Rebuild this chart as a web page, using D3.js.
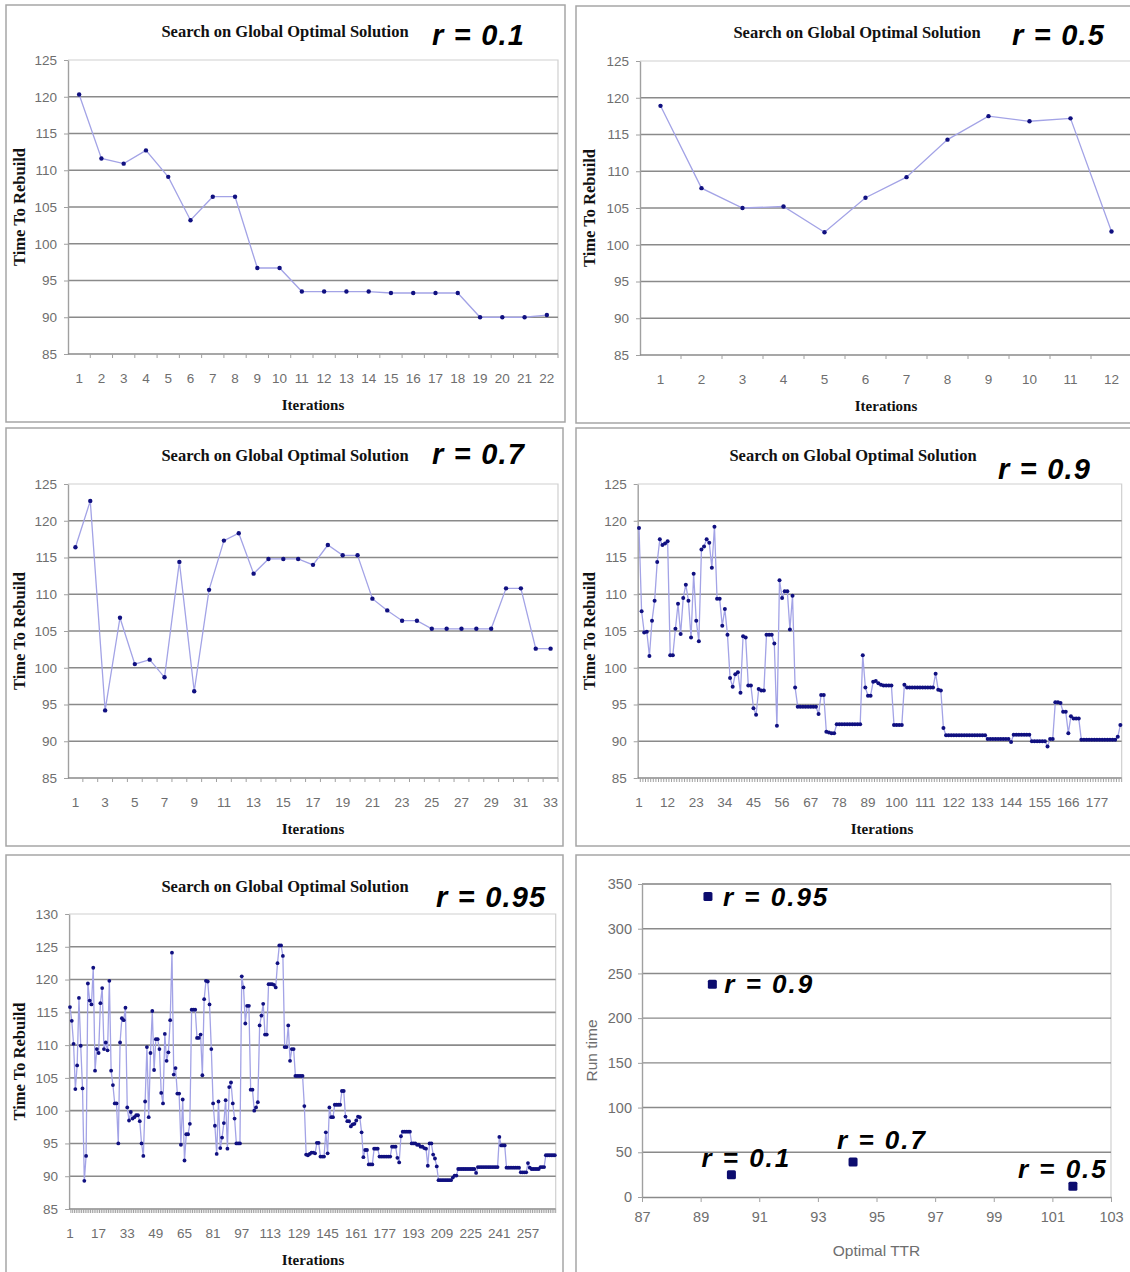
<!DOCTYPE html>
<html>
<head>
<meta charset="utf-8">
<script src="https://cdn.jsdelivr.net/npm/d3@7"></script>
<style>
  body { margin: 0; background: #fff; }
  .tick-label { font-family: "Liberation Sans", Arial, sans-serif; fill: #6e6e6e; }
  .serif-bold { font-family: "Liberation Serif", "Times New Roman", serif; font-weight: bold; fill: #111; }
  .r-label { font-family: "Liberation Sans", Arial, sans-serif; font-weight: bold; font-style: italic; fill: #000; }
</style>
</head>
<body>
<svg id="chart" width="1130" height="1272"></svg>
<script>
// ---- data ----
// time to rebuild per iteration, one array per r value
const ttrR01 = [120.3, 111.6, 110.9, 112.7, 109.1, 103.2, 106.4, 106.4, 96.7, 96.7, 93.5,
  93.5, 93.5, 93.5, 93.3, 93.3, 93.3, 93.3, 90.0, 90.0, 90.0, 90.3];

const ttrR05 = [118.9, 107.7, 105.0, 105.2, 101.7, 106.4, 109.2, 114.3, 117.5, 116.8, 117.2, 101.8];

const ttrR07 = [116.4, 122.7, 94.2, 106.8, 100.5, 101.1, 98.7, 114.4, 96.8, 110.6, 117.3,
  118.3, 112.8, 114.8, 114.8, 114.8, 114.0, 116.7, 115.3, 115.3, 109.4, 107.8,
  106.4, 106.4, 105.3, 105.3, 105.3, 105.3, 105.3, 110.8, 110.8, 102.6, 102.6];

const ttrR09 = [
  119.0, 107.7, 104.8, 104.9, 101.6, 106.4, 109.1, 114.4, 117.5, 116.7,
  116.9, 117.2, 101.7, 101.7, 105.3, 108.7, 104.6, 109.5, 111.3, 109.1,
  104.1, 112.8, 106.4, 103.6, 116.1, 116.5, 117.5, 117.0, 113.6, 119.2,
  109.4, 109.4, 105.7, 108.0, 104.5, 98.6, 97.4, 99.1, 99.4, 96.6,
  104.3, 104.1, 97.6, 97.6, 94.5, 93.6,
  97.1, 96.9, 96.9, 104.5, 104.5, 104.5, 103.3, 92.1, 111.9, 109.5,
  110.4, 110.4, 105.2, 109.8, 97.3, 94.7, 94.7, 94.7, 94.7, 94.7,
  94.7, 94.7, 94.7, 93.7, 96.3, 96.3, 91.3, 91.2, 91.1, 91.1,
  92.3, 92.3, 92.3, 92.3, 92.3, 92.3, 92.3, 92.3, 92.3, 92.3,
  101.7, 97.3, 96.2, 96.2, 98.1,
  98.2, 97.9, 97.7, 97.6, 97.6, 97.6, 97.6, 92.2, 92.2, 92.2,
  92.2, 97.7, 97.3, 97.3, 97.3, 97.3, 97.3, 97.3, 97.3, 97.3,
  97.3, 97.3, 97.3, 99.2, 97.0, 96.9, 91.8, 90.8, 90.8, 90.8,
  90.8, 90.8, 90.8, 90.8, 90.8, 90.8, 90.8, 90.8, 90.8, 90.8,
  90.8, 90.8, 90.8, 90.3, 90.3, 90.3, 90.3, 90.3, 90.3,
  90.3, 90.3, 90.3, 89.9, 90.9, 90.9, 90.9, 90.9, 90.9, 90.9,
  90.9, 90.0, 90.0, 90.0, 90.0, 90.0, 90.0, 89.3, 90.3, 90.3,
  95.3, 95.3, 95.2, 94.0, 94.0, 91.1, 93.4, 93.1, 93.1, 93.1,
  90.2, 90.2, 90.2, 90.2, 90.2, 90.2, 90.2, 90.2, 90.2, 90.2,
  90.2, 90.2, 90.2, 90.2, 90.6, 92.2];

const ttrR095 = [
  115.8, 113.7, 110.2, 103.3, 106.9, 117.2, 109.9, 103.4, 89.3, 93.1,
  119.4, 116.8, 116.2, 121.8, 106.1, 109.4, 108.8, 116.4, 118.7, 109.4,
  110.4, 109.2, 119.8, 106.1, 103.9, 101.1, 101.1, 95.0, 110.4, 114.1,
  113.8, 115.7, 100.5, 98.5, 99.8, 98.8, 99.0, 99.3, 99.3, 98.4,
  95.0, 93.1, 101.4, 109.7, 99.0, 108.8, 115.2, 106.2, 110.9, 110.9,
  109.4, 102.7, 101.1, 111.7, 107.6, 108.9, 113.8, 124.1, 105.5, 106.5,
  102.6, 102.6, 94.8, 101.7, 92.4, 96.4, 96.4, 98.0, 115.4, 115.4, 115.4,
  111.1, 111.1, 111.6, 105.4, 117.0, 119.8, 119.7, 116.2, 109.4, 101.1,
  97.7, 93.4, 101.4, 94.3, 95.9, 98.1, 101.6, 94.2, 103.6, 104.3,
  101.1, 98.8, 95.0, 95.0, 95.0, 120.5, 118.8, 113.3, 116.0, 116.0,
  103.2, 103.2, 100.0, 100.5,
  101.3, 113.0, 114.5, 116.3, 111.6, 111.6, 119.3, 119.3, 119.3, 119.2,
  118.8, 122.5, 125.2, 125.2, 123.6, 109.7, 109.7, 113.0, 107.6, 109.4,
  109.4, 105.3, 105.3, 105.3, 105.3, 105.3, 100.7, 93.3, 93.2, 93.4,
  93.6, 93.6, 93.5, 95.1, 95.1, 93.0, 93.0, 93.0, 96.7, 93.5,
  100.5, 99.0, 99.0, 100.9, 100.9, 100.9, 100.9, 103.0, 103.0, 99.1,
  98.4, 98.4, 97.6, 97.9,
  98.0, 98.5, 99.1, 99.0, 96.7, 92.9, 94.0, 94.0, 91.8, 91.8,
  91.8, 94.2, 94.2, 94.2, 93.0, 93.0, 93.0, 93.0, 93.0, 93.0,
  93.0, 94.5, 94.5, 94.5, 92.8, 92.1, 96.1, 96.8, 96.8, 96.8,
  96.8, 96.8, 95.0, 95.0, 95.0, 94.8, 94.8, 94.5, 94.5, 94.3,
  94.2, 91.6, 95.0, 95.0, 93.3, 92.7, 91.5, 89.4, 89.4, 89.4,
  89.4, 89.4, 89.4, 89.4, 89.4, 89.8, 90.1, 90.1, 91.1,
  91.1, 91.1, 91.1, 91.1, 91.1, 91.1, 91.1, 91.1, 91.1, 90.5,
  91.4, 91.4, 91.4, 91.4, 91.4, 91.4, 91.4, 91.4, 91.4, 91.4,
  91.4, 91.4, 96.0, 94.7, 94.7, 94.7, 91.3, 91.3, 91.3,
  91.3, 91.3, 91.3, 91.3, 91.3, 90.6, 90.6, 90.6, 90.6, 92.0,
  91.3, 91.1, 91.1, 91.1, 91.1, 91.1, 91.4, 91.4, 91.4, 93.2,
  93.2, 93.2, 93.2, 93.2, 93.2];

// summary: optimal TTR vs run time for each r
const rNames = ["r = 0.95", "r = 0.9", "r = 0.1", "r = 0.7", "r = 0.5"];
const optimalTTR = [89.25, 89.4, 90.05, 94.2, 101.7];
const runTime = [336, 238, 25, 39, 12];

const svg = d3.select("#chart");

//Draws one "Search on Global Optimal Solution" line panel
function drawLinePanel(p) {
    const g = svg.append("g");

    //panel border
    g.append("rect")
        .attr("x", p.box[0]).attr("y", p.box[1])
        .attr("width", p.box[2]).attr("height", p.box[3])
        .attr("fill", "none").attr("stroke", "#a6a6a6").attr("stroke-width", 1.5);

    const n = p.data.length;
    const xScale = d3.scaleBand().domain(d3.range(1, n + 1)).range([p.x0, p.x0 + p.bandW * n]).padding(0);
    const yScale = d3.scaleLinear().domain([p.yMin, p.yMax]).range([p.y1, p.y0]);
    const xEnd = p.x0 + p.bandW * n;

    //plot frame (top/right light)
    g.append("path")
        .attr("d", `M${p.x0},${p.y0}H${xEnd}V${p.y1}`)
        .attr("fill", "none").attr("stroke", "#d0d0d0").attr("stroke-width", 1.2);

    //horizontal gridlines
    const yTicks = d3.range(p.yMin, p.yMax + 0.01, 5);
    g.selectAll("line.grid")
        .data(yTicks.filter(d => d > p.yMin && d < p.yMax))
        .join("line")
        .attr("x1", p.x0).attr("x2", xEnd)
        .attr("y1", d => yScale(d)).attr("y2", d => yScale(d))
        .attr("stroke", "#8a8a8a").attr("stroke-width", 1.6);

    //y axis
    const yAxis = g.append("g")
        .attr("transform", `translate(${p.x0},0)`)
        .call(d3.axisLeft(yScale).tickValues(yTicks).tickSize(4).tickSizeOuter(0).tickPadding(7));
    yAxis.select(".domain").attr("stroke", "#a0a0a0").attr("stroke-width", 1.4);
    yAxis.selectAll(".tick line").attr("stroke", "#a0a0a0");
    yAxis.selectAll("text").attr("class", "tick-label").style("font-size", "13.5px").attr("fill", null);

    //x axis: a tick on every category boundary, label every p.every
    g.append("line")
        .attr("x1", p.x0).attr("x2", xEnd).attr("y1", p.y1).attr("y2", p.y1)
        .attr("stroke", "#8a8a8a").attr("stroke-width", 1.6);
    g.selectAll("line.xtick")
        .data(d3.range(1, n + 1))
        .join("line")
        .attr("x1", d => xScale(d) + xScale.bandwidth()).attr("x2", d => xScale(d) + xScale.bandwidth())
        .attr("y1", p.y1).attr("y2", p.y1 + 4)
        .attr("stroke", "#a0a0a0").attr("stroke-width", 1);
    g.selectAll("text.xlab")
        .data(d3.range(1, n + 1).filter(d => (d - 1) % p.every === 0))
        .join("text")
        .attr("class", "tick-label")
        .style("font-size", "13.5px")
        .attr("x", d => xScale(d) + xScale.bandwidth() / 2)
        .attr("y", p.y1 + 29)
        .attr("text-anchor", "middle")
        .text(d => d);

    //series line and markers
    const line = d3.line()
        .x((d, i) => xScale(i + 1) + xScale.bandwidth() / 2)
        .y(d => yScale(d));
    g.append("path")
        .datum(p.data)
        .attr("fill", "none")
        .attr("stroke", "#a3a3e6")
        .attr("stroke-width", 1.3)
        .attr("d", line);
    g.selectAll("circle.pt")
        .data(p.data)
        .join("circle")
        .attr("cx", (d, i) => xScale(i + 1) + xScale.bandwidth() / 2)
        .attr("cy", d => yScale(d))
        .attr("r", p.dotR)
        .attr("fill", "#101080");

    //titles
    g.append("text").attr("class", "serif-bold")
        .attr("x", p.titleX).attr("y", p.titleY).attr("text-anchor", "middle")
        .style("font-size", "16.5px").text("Search on Global Optimal Solution");
    g.append("text").attr("class", "serif-bold")
        .attr("x", p.xTitleX).attr("y", p.y1 + 56).attr("text-anchor", "middle")
        .style("font-size", "15px").text("Iterations");
    g.append("text").attr("class", "serif-bold")
        .attr("transform", `translate(${p.box[0] + 19},${(p.y0 + p.y1) / 2}) rotate(-90)`)
        .attr("text-anchor", "middle")
        .style("font-size", "16.5px").text("Time To Rebuild");
    g.append("text").attr("class", "r-label")
        .attr("x", p.rX).attr("y", p.rY)
        .style("font-size", "29px").style("letter-spacing", "1.2px")
        .text(p.rText);
}

drawLinePanel({data: ttrR01, rText: "r = 0.1", box: [6, 5, 559, 417], x0: 68, bandW: 490 / 22,
    y0: 60, y1: 354, yMin: 85, yMax: 125, every: 1, dotR: 2.2,
    titleX: 285, titleY: 37, xTitleX: 313, rX: 432, rY: 45});
drawLinePanel({data: ttrR05, rText: "r = 0.5", box: [576, 6, 560, 417], x0: 640, bandW: 41,
    y0: 61, y1: 355, yMin: 85, yMax: 125, every: 1, dotR: 2.2,
    titleX: 857, titleY: 38, xTitleX: 886, rX: 1012, rY: 45});
drawLinePanel({data: ttrR07, rText: "r = 0.7", box: [6, 428, 557, 418], x0: 68, bandW: 490 / 33,
    y0: 484, y1: 778, yMin: 85, yMax: 125, every: 2, dotR: 2.2,
    titleX: 285, titleY: 461, xTitleX: 313, rX: 432, rY: 464});
drawLinePanel({data: ttrR09, rText: "r = 0.9", box: [576, 428, 560, 418], x0: 637.7, bandW: 2.602,
    y0: 484, y1: 778, yMin: 85, yMax: 125, every: 11, dotR: 2,
    titleX: 853, titleY: 461, xTitleX: 882, rX: 998, rY: 479});
drawLinePanel({data: ttrR095, rText: "r = 0.95", box: [6, 855, 557, 420], x0: 69.1, bandW: 1.789,
    y0: 914, y1: 1209, yMin: 85, yMax: 130, every: 16, dotR: 1.9,
    titleX: 285, titleY: 892, xTitleX: 313, rX: 436, rY: 907});

//---- summary scatter panel ----
(function () {
    const g = svg.append("g");
    const x0 = 642, x1 = 1111, y0 = 884, y1 = 1197;
    g.append("rect").attr("x", 576).attr("y", 855).attr("width", 560).attr("height", 420)
        .attr("fill", "none").attr("stroke", "#a6a6a6").attr("stroke-width", 1.5);

    const xScale = d3.scaleLinear().domain([87, 103]).range([x0, x1]);
    const yScale = d3.scaleLinear().domain([0, 350]).range([y1, y0]);

    g.append("path").attr("d", `M${x0},${y0}H${x1}V${y1}`)
        .attr("fill", "none").attr("stroke", "#d0d0d0").attr("stroke-width", 1.2);

    const yTicks = d3.range(0, 351, 50);
    g.selectAll("line.grid")
        .data(yTicks.filter(d => d > 0))
        .join("line")
        .attr("x1", x0).attr("x2", x1)
        .attr("y1", d => yScale(d)).attr("y2", d => yScale(d))
        .attr("stroke", "#8a8a8a").attr("stroke-width", 1.4);

    const yAxis = g.append("g").attr("transform", `translate(${x0},0)`)
        .call(d3.axisLeft(yScale).tickValues(yTicks).tickSize(4).tickSizeOuter(0).tickPadding(6));
    yAxis.select(".domain").attr("stroke", "#a0a0a0").attr("stroke-width", 1.4);
    yAxis.selectAll(".tick line").attr("stroke", "#a0a0a0");
    yAxis.selectAll("text").attr("class", "tick-label").style("font-size", "14.5px").attr("fill", null);

    const xAxis = g.append("g").attr("transform", `translate(0,${y1})`)
        .call(d3.axisBottom(xScale).tickValues(d3.range(87, 104, 2)).tickSize(5).tickSizeOuter(0).tickPadding(10));
    xAxis.select(".domain").attr("stroke", "#8a8a8a").attr("stroke-width", 1.6);
    xAxis.selectAll(".tick line").attr("stroke", "#a0a0a0");
    xAxis.selectAll("text").attr("class", "tick-label").style("font-size", "14.5px").attr("fill", null);

    g.append("text").attr("class", "tick-label").style("font-size", "15.5px")
        .attr("x", (x0 + x1) / 2).attr("y", 1256).attr("text-anchor", "middle").text("Optimal TTR");
    g.append("text").attr("class", "tick-label").style("font-size", "15.5px")
        .attr("transform", `translate(597,${(y0 + y1) / 2 + 10}) rotate(-90)`)
        .attr("text-anchor", "middle").text("Run time");

    //markers
    g.selectAll("rect.pt")
        .data(optimalTTR)
        .join("rect")
        .attr("x", d => xScale(d) - 4.5)
        .attr("y", (d, i) => yScale(runTime[i]) - 4.5)
        .attr("width", 9).attr("height", 9).attr("rx", 1.5)
        .attr("fill", "#0c0c6e");

    //r labels next to markers (offsets in px)
    const labelOffset = [[15, 9], [12, 9], [-30, -8], [-16, -13], [-55, -8]];
    g.selectAll("text.rl")
        .data(rNames)
        .join("text")
        .attr("class", "r-label")
        .style("font-size", "26px").style("letter-spacing", "2px")
        .attr("x", (d, i) => xScale(optimalTTR[i]) + labelOffset[i][0])
        .attr("y", (d, i) => yScale(runTime[i]) + labelOffset[i][1])
        .text(d => d);
})();
</script>
</body>
</html>
